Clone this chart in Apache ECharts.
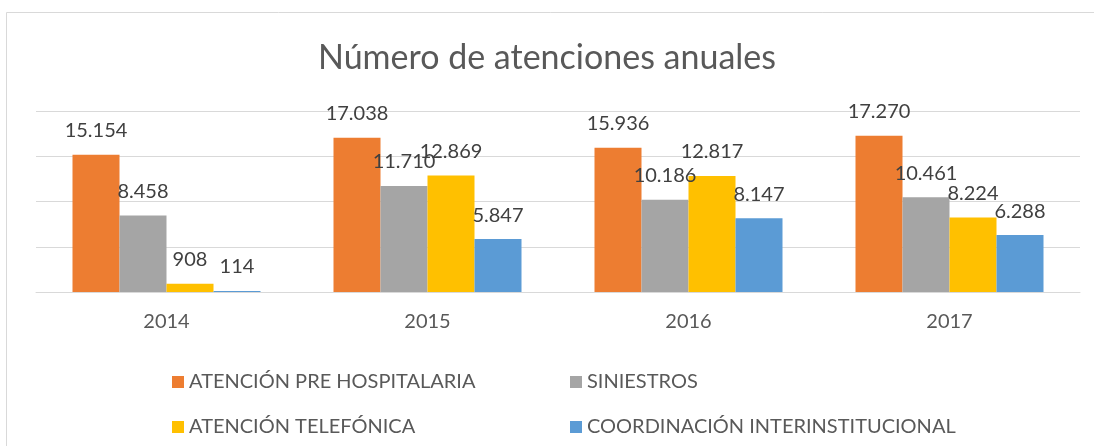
<!DOCTYPE html>
<html>
<head>
<meta charset="utf-8">
<title>Número de atenciones anuales</title>
<script src="https://cdn.jsdelivr.net/npm/echarts@6/dist/echarts.min.js"></script>
<style>
  html, body { margin: 0; padding: 0; background: #fff; }
  #chart { width: 1094px; height: 446px; }
</style>
</head>
<body>
<div id="chart"></div>
<script>
  // datos
  var anios = ['2014', '2015', '2016', '2017'];
  var nombres = ['ATENCIÓN PRE HOSPITALARIA', 'SINIESTROS', 'ATENCIÓN TELEFÓNICA', 'COORDINACIÓN INTERINSTITUCIONAL'];
  var preHospitalaria = [15154, 17038, 15936, 17270];
  var siniestros = [8458, 11710, 10186, 10461];
  var telefonica = [908, 12869, 12817, 8224];
  var coordinacion = [114, 5847, 8147, 6288];
  var colores = ['#ED7D31', '#A5A5A5', '#FFC000', '#5B9BD5'];

  var fuente = 'Lato, "Open Sans", sans-serif';

  // separador de miles con punto: 15154 -> 15.154
  function miles(v) {
    return String(v).replace(/\B(?=(\d{3})+(?!\d))/g, '.');
  }

  function serie(i, datos) {
    return {
      name: nombres[i],
      type: 'bar',
      data: datos,
      barWidth: 47,
      barGap: '0%',
      itemStyle: { color: colores[i] },
      label: {
        show: true,
        position: 'top',
        distance: 14,
        color: '#404040',
        fontFamily: fuente,
        fontSize: 20,
        formatter: function (p) { return miles(p.value); }
      }
    };
  }

  var chart = echarts.init(document.getElementById('chart'));
  var option = {
    animation: false,
    backgroundColor: '#fff',
    title: {
      text: 'Número de atenciones anuales',
      left: 'center',
      top: 36,
      textStyle: { color: '#595959', fontFamily: fuente, fontSize: 34, fontWeight: 'normal' }
    },
    // dos columnas de leyenda
    legend: [
      {
        orient: 'vertical',
        left: 167,
        top: 366,
        itemWidth: 12,
        itemHeight: 12,
        itemGap: 23,
        icon: 'rect',
        data: [nombres[0], nombres[2]],
        textStyle: { color: '#595959', fontFamily: fuente, fontSize: 20, lineHeight: 22, padding: [0, 0, 0, 0] }
      },
      {
        orient: 'vertical',
        left: 565,
        top: 366,
        itemWidth: 12,
        itemHeight: 12,
        itemGap: 23,
        icon: 'rect',
        data: [nombres[1], nombres[3]],
        textStyle: { color: '#595959', fontFamily: fuente, fontSize: 20, lineHeight: 22, padding: [0, 0, 0, 0] }
      }
    ],
    graphic: [{
      type: 'rect',
      shape: { x: 6.5, y: 12.5, width: 1200, height: 1000 },
      style: { fill: 'none', stroke: '#D9D9D9', lineWidth: 1 },
      silent: true
    }],
    grid: { left: 36, right: 14, top: 111, bottom: 154, containLabel: false },
    xAxis: {
      type: 'category',
      data: anios,
      axisLine: { lineStyle: { color: '#D9D9D9', width: 1 } },
      axisTick: { show: false },
      axisLabel: { color: '#595959', fontFamily: fuente, fontSize: 20, margin: 20 }
    },
    yAxis: {
      type: 'value',
      min: 0,
      max: 20000,
      interval: 5000,
      axisLine: { show: false },
      axisTick: { show: false },
      axisLabel: { show: false },
      splitLine: { lineStyle: { color: '#D9D9D9', width: 1 } }
    },
    series: [
      serie(0, preHospitalaria),
      serie(1, siniestros),
      serie(2, telefonica),
      serie(3, coordinacion)
    ]
  };
  chart.setOption(option);
</script>
</body>
</html>
